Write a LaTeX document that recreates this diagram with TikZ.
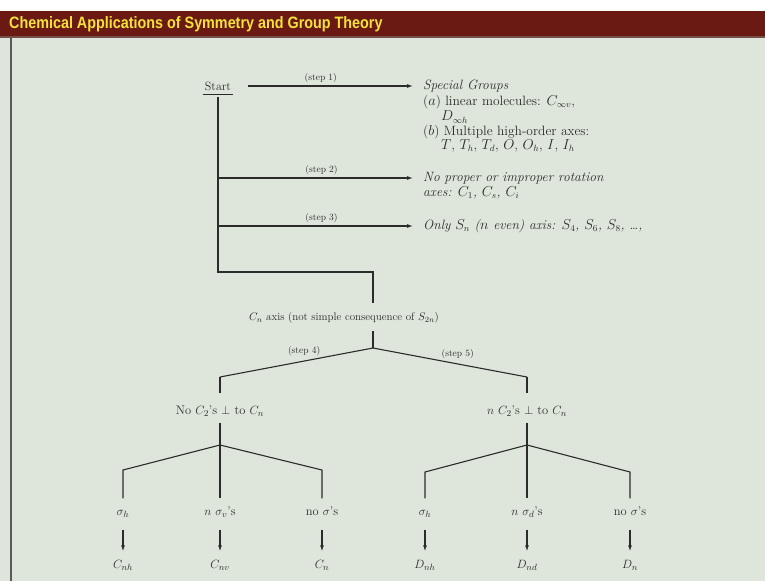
\documentclass[tikz,border=0pt]{standalone}
\usepackage{fontspec}
\usetikzlibrary{arrows.meta}
\newfontfamily\titlefont{Liberation Sans}
\definecolor{banner}{HTML}{6A1A12}
\definecolor{titleyellow}{HTML}{F4E23C}
\definecolor{slide}{HTML}{DEE6DB}
\definecolor{ink}{HTML}{2B2B2B}
\begin{document}
\begin{tikzpicture}[x=1pt,y=-1pt,
    txt/.style={inner sep=2pt, text=ink, font=\fontsize{12.5}{14}\selectfont},
    lbl/.style={txt, text height=8pt, text depth=3pt},
    rtxt/.style={txt, anchor=west, font=\fontsize{13.5}{15}\selectfont},
    steplbl/.style={inner sep=1pt, text=ink, font=\fontsize{9.5}{11}\selectfont},
    tree/.style={draw=ink, line width=1.1pt},
    arr/.style={tree, -{Latex[length=6pt,width=4pt]}},
    drop/.style={arr, shorten <=9pt, shorten >=7pt},
  ]
  \useasboundingbox (0,0) rectangle (765,581);
  % slide frame
  \fill[white] (0,0) rectangle (765,11);
  \fill[banner] (0,11) rectangle (765,36);
  \fill[slide] (0,36) rectangle (765,581);
  \draw[banner!50!gray, line width=2pt] (0,37) -- (765,37);
  \draw[gray!70!black, line width=1.2pt] (11,38) -- (11,581);
  \node[anchor=base west, inner sep=0pt, text=titleyellow] (title) at (9,28)
    {\scalebox{0.87}[1]{\titlefont\bfseries\fontsize{16.5}{18}\selectfont Chemical Applications of Symmetry and Group Theory}};

  % start and the special groups
  \node[txt, font=\fontsize{12}{14}\selectfont] (start) at (218,86) {Start};
  \draw[tree] ([yshift=-2pt]start.south west) -- ([yshift=-2pt]start.south east);
  \coordinate (bar) at (218,97);
  \coordinate (b2) at (218,178);
  \coordinate (b3) at (218,226);
  \coordinate (elbow) at (218,272);
  \coordinate (cntop) at (373,303);

  \node[rtxt] (grp) at (421,86) {\itshape Special Groups};
  \node[rtxt] (grpa) at (421,102) {($a$) linear molecules: $C_{\infty v}$,};
  \node[rtxt] (grpa2) at (439,117) {$D_{\infty h}$};
  \node[rtxt] (grpb) at (421,132) {($b$) Multiple high-order axes:};
  \node[rtxt] (grpb2) at (439,146) {$T$, $T_h$, $T_d$, $O$, $O_h$, $I$, $I_h$};
  \node[rtxt] (noprop) at (421,178) {\itshape No proper or improper rotation};
  \node[rtxt] (noprop2) at (421,193) {\itshape axes: $C_1$, $C_s$, $C_i$};
  \node[rtxt] (onlys) at (421,226) {\itshape Only $S_n$ ($n$ even) axis: $S_4$, $S_6$, $S_8$, \dots,};

  \draw[arr, shorten >=8pt] ([xshift=15pt]start.east) -- (grp.west) node[steplbl, pos=0.42, above=2pt] {(step 1)};
  \draw[arr, shorten >=8pt] (b2) -- (noprop.west) node[steplbl, pos=0.51, above=2pt] {(step 2)};
  \draw[arr, shorten >=8pt] (b3) -- (onlys.west) node[steplbl, pos=0.51, above=2pt] {(step 3)};
  \draw[tree] (bar) -- (elbow) -| (cntop);

  % C_n axis and its two branches
  \node[txt, font=\fontsize{11}{13}\selectfont] (cn) at (344,318) {$C_n$ axis (not simple consequence of $S_{2n}$)};
  \coordinate (cnbot) at (373,331);
  \coordinate (fork) at (373,348);
  \coordinate (k4) at (220,377);
  \coordinate (k5) at (527,377);
  \node[lbl] (nocc) at (220,412) {No $C_2$'s $\perp$ to $C_n$};
  \node[lbl] (ncc) at (527,412) {$n$ $C_2$'s $\perp$ to $C_n$};
  \draw[tree] (cnbot) -- (fork);
  \draw[tree] (fork) -- (k4) node[steplbl, pos=0.45, above=4pt] {(step 4)};
  \draw[tree] (fork) -- (k5) node[steplbl, pos=0.55, above=4pt] {(step 5)};
  \draw[tree, shorten >=11pt] (k4) -- (nocc);
  \draw[tree, shorten >=11pt] (k5) -- (ncc);

  % left subtree
  \coordinate (apexL) at (220,445);
  \coordinate (kL1) at (123,470);
  \coordinate (kL3) at (322,470);
  \node[lbl] (lsh) at (123,513) {$\sigma_h$};
  \node[lbl] (lsv) at (220,513) {$n$ $\sigma_v$'s};
  \node[lbl] (lno) at (322,513) {no $\sigma$'s};
  \node[lbl] (rcnh) at (123,566) {$C_{nh}$};
  \node[lbl] (rcnv) at (220,566) {$C_{nv}$};
  \node[lbl] (rcn) at (322,566) {$C_n$};
  \draw[tree, shorten <=3pt] (nocc) -- (apexL);
  \draw[tree, shorten >=7pt] (apexL) -- (kL1) -- (lsh);
  \draw[tree, shorten >=7pt] (apexL) -- (lsv);
  \draw[tree, shorten >=7pt] (apexL) -- (kL3) -- (lno);

  % right subtree
  \coordinate (apexR) at (527,445);
  \coordinate (kR1) at (425,472);
  \coordinate (kR3) at (630,472);
  \node[lbl] (dsh) at (425,513) {$\sigma_h$};
  \node[lbl] (dsd) at (527,513) {$n$ $\sigma_d$'s};
  \node[lbl] (dno) at (630,513) {no $\sigma$'s};
  \node[lbl] (rdnh) at (425,566) {$D_{nh}$};
  \node[lbl] (rdnd) at (527,566) {$D_{nd}$};
  \node[lbl] (rdn) at (630,566) {$D_n$};
  \draw[tree, shorten <=3pt] (ncc) -- (apexR);
  \draw[tree, shorten >=7pt] (apexR) -- (kR1) -- (dsh);
  \draw[tree, shorten >=7pt] (apexR) -- (dsd);
  \draw[tree, shorten >=7pt] (apexR) -- (kR3) -- (dno);

  \foreach \a/\b in {lsh/rcnh, lsv/rcnv, lno/rcn, dsh/rdnh, dsd/rdnd, dno/rdn}
    \draw[drop] (\a) -- (\b);
\end{tikzpicture}
\end{document}
